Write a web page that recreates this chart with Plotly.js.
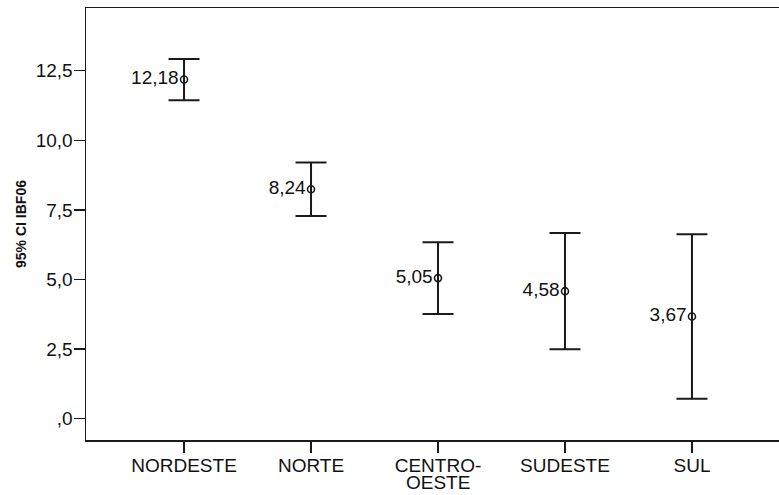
<!DOCTYPE html>
<html>
<head>
<meta charset="utf-8">
<script src="https://cdn.plot.ly/plotly-3.0.1.min.js"></script>
<style>
  html, body { margin: 0; padding: 0; overflow: hidden; background: #fff; }
  #chart { width: 792px; height: 495px; }
</style>
</head>
<body>
<div id="chart"></div>
<script>
// Regions and their IBF06 means with 95% confidence limits
const regions = ["NORDESTE", "NORTE", "CENTRO-", "SUDESTE", "SUL"];
const regionSecondLine = ["", "", "OESTE", "", ""];
const means = [12.18, 8.24, 5.05, 4.58, 3.67];
const ciUpper = [12.92, 9.20, 6.34, 6.67, 6.62];
const ciLower = [11.44, 7.28, 3.76, 2.49, 0.72];
const yTickVals = [0, 2.5, 5, 7.5, 10, 12.5];
const yTickText = [",0", "2,5", "5,0", "7,5", "10,0", "12,5"];

const meanLabels = means.map(v => v.toFixed(2).replace(".", ","));
const errPlus = means.map((m, i) => ciUpper[i] - m);
const errMinus = means.map((m, i) => m - ciLower[i]);
const xIdx = regions.map((_, i) => i);

const ink = "#1a1a1a";
const fam = "Arial, 'Liberation Sans', sans-serif";
const baseFont = { family: fam, size: 19, color: "#111" };

const trace = {
  type: "scatter",
  mode: "markers+text",
  x: xIdx,
  y: means,
  text: meanLabels,
  textposition: "middle left",
  textfont: baseFont,
  cliponaxis: false,
  marker: { symbol: "circle-open", size: 7, color: ink, line: { width: 1.6, color: ink } },
  error_y: {
    type: "data",
    symmetric: false,
    array: errPlus,
    arrayminus: errMinus,
    color: ink,
    thickness: 2,
    width: 15.5
  },
  hoverinfo: "skip",
  showlegend: false
};

// Tight second line for wrapped category names
const wrapNotes = regionSecondLine
  .map((t, i) => ({ t, i }))
  .filter(d => d.t)
  .map(d => ({
    x: d.i, xref: "x",
    y: 0, yref: "paper",
    yanchor: "top",
    yshift: -31,
    borderpad: 0,
    text: d.t,
    showarrow: false,
    font: baseFont
  }));

const layout = {
  width: 792,
  height: 495,
  margin: { l: 86, r: 2, t: 8, b: 55 },
  paper_bgcolor: "#fff",
  plot_bgcolor: "#fff",
  font: baseFont,
  annotations: wrapNotes,
  xaxis: {
    range: [-0.772, 4.772],
    tickmode: "array",
    tickvals: xIdx,
    ticktext: regions,
    ticks: "outside",
    ticklen: 11,
    tickwidth: 1.5,
    tickcolor: ink,
    ticklabelstandoff: -3,
    showline: true,
    linecolor: ink,
    linewidth: 1.5,
    mirror: true,
    showgrid: false,
    zeroline: false,
    tickfont: baseFont
  },
  yaxis: {
    range: [-0.765, 14.75],
    tickmode: "array",
    tickvals: yTickVals,
    ticktext: yTickText,
    ticks: "outside",
    ticklen: 11,
    tickwidth: 1.5,
    tickcolor: ink,
    ticklabelstandoff: -3,
    showline: true,
    linecolor: ink,
    linewidth: 1.5,
    mirror: true,
    showgrid: false,
    zeroline: false,
    tickfont: baseFont,
    title: {
      text: "95% CI IBF06",
      font: { family: fam, size: 14, weight: "bold", color: "#111" },
      standoff: 6
    }
  }
};

Plotly.newPlot("chart", [trace], layout, { displayModeBar: false, staticPlot: true });
</script>
</body>
</html>
